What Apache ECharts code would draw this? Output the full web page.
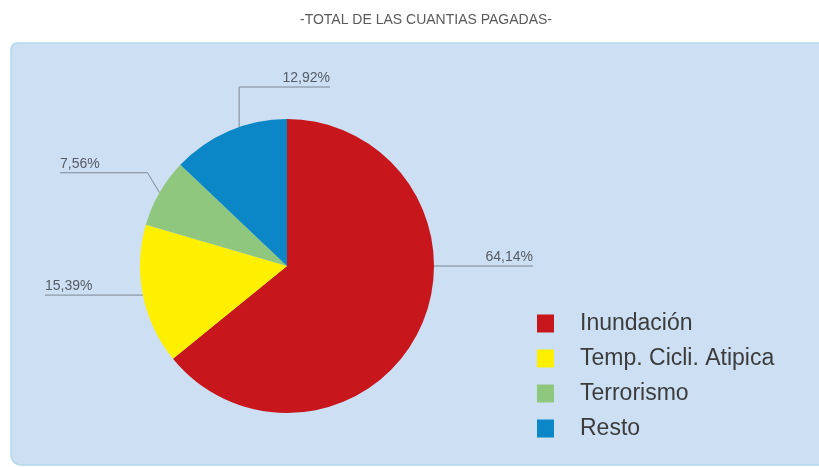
<!DOCTYPE html>
<html>
<head>
<meta charset="utf-8">
<script src="https://cdn.jsdelivr.net/npm/echarts@6/dist/echarts.min.js"></script>
<style>
  html, body { margin: 0; padding: 0; background: #ffffff; }
  #chart { width: 819px; height: 467px; }
</style>
</head>
<body>
<div id="chart"></div>
<script>
// Share of total amounts paid, by type of risk
const categories = ['Inundación', 'Temp. Cicli. Atipica', 'Terrorismo', 'Resto'];
const values = [64.14, 15.39, 7.56, 12.92];
const sliceColors = ['#c8161d', '#fff000', '#8fc77e', '#0b86c6'];

const CX = 287, CY = 266, R = 147;

// Leader-line routing per slice: anchor angle on the rim (degrees clockwise
// from 12 o'clock, null = slice middle), elbow offset from the anchor, and
// the x where the horizontal underline ends.
const guides = [
  { angle: 90,   elbow: [0, 0],     endX: 533, side: 'right' },
  { angle: null, elbow: [0, 0],     endX: 45,  side: 'left'  },
  { angle: null, elbow: [-12, -20], endX: 60,  side: 'left'  },
  { angle: 341,  elbow: [0, -40],   endX: 330, side: 'right' }
];

const total = values.reduce((a, b) => a + b, 0);
function midAngle(i) {
  let before = 0;
  for (let k = 0; k < i; k++) before += values[k];
  return (before + values[i] / 2) / total * 360;
}
function rimPoint(deg) {
  const t = deg * Math.PI / 180;
  return [CX + R * Math.sin(t), CY - R * Math.cos(t)];
}
function fmt(v) { return v.toFixed(2).replace('.', ',') + '%'; }

const chart = echarts.init(document.getElementById('chart'), null, { renderer: 'canvas' });

chart.setOption({
  animation: false,
  backgroundColor: '#ffffff',
  title: {
    text: '-TOTAL DE LAS CUANTIAS PAGADAS-',
    left: 421,
    textAlign: 'center',
    top: 8,
    textStyle: { fontFamily: 'Liberation Sans', fontSize: 14, fontWeight: 'normal', color: '#5a5a5a' }
  },
  graphic: [{
    type: 'rect',
    z: -10,
    silent: true,
    shape: { x: 11, y: 43, width: 830, height: 422, r: [6, 0, 0, 10] },
    style: { fill: '#cddff3', stroke: '#b3d8ee', lineWidth: 1.5 }
  }],
  legend: {
    orient: 'vertical',
    left: 532,
    top: 307,
    icon: 'rect',
    itemWidth: 17,
    itemHeight: 18,
    itemGap: 12,
    data: categories,
    textStyle: {
      fontFamily: 'Liberation Sans',
      fontSize: 23,
      color: '#3c3c3c',
      padding: [0, 0, 0, 21]
    }
  },
  series: [{
    type: 'pie',
    center: [CX, CY],
    radius: R,
    startAngle: 90,
    clockwise: true,
    data: categories.map((name, i) => ({
      name: name,
      value: values[i],
      itemStyle: { color: sliceColors[i] }
    })),
    label: {
      show: true,
      position: 'outside',
      formatter: p => fmt(p.value),
      fontFamily: 'Liberation Sans',
      fontSize: 14,
      color: '#555c66'
    },
    labelLine: {
      show: true,
      lineStyle: { color: '#7d8896', width: 1 }
    },
    labelLayout: function (params) {
      const g = guides[params.dataIndex];
      const ang = g.angle == null ? midAngle(params.dataIndex) : g.angle;
      const a = rimPoint(ang);
      const e = [a[0] + g.elbow[0], a[1] + g.elbow[1]];
      const end = [g.endX, e[1]];
      return {
        x: g.endX,
        y: e[1] - 2,
        align: g.side === 'right' ? 'right' : 'left',
        verticalAlign: 'bottom',
        labelLinePoints: [a, e, end]
      };
    },
    emphasis: { disabled: true }
  }]
});
</script>
</body>
</html>
